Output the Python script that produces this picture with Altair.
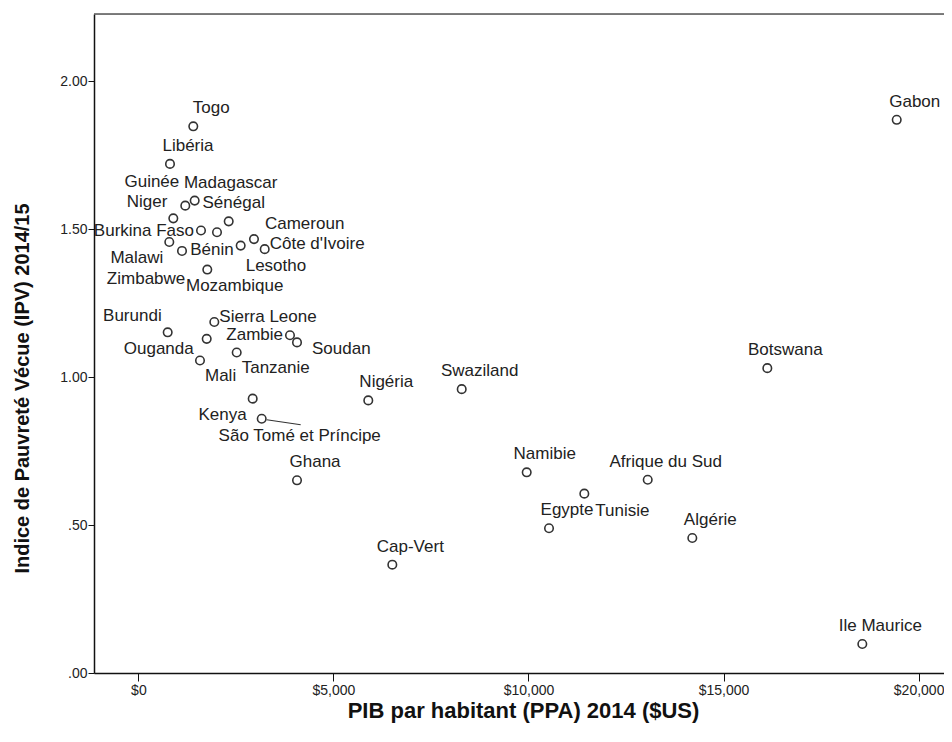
import altair as alt
import pandas as pd

# ---- data ----
countries = [
    "Togo", "Libéria", "Guinée", "Madagascar", "Niger", "Sénégal", "Burkina Faso",
    "Cameroun", "Bénin", "Côte d'Ivoire", "Lesotho", "Malawi", "Zimbabwe", "Mozambique",
    "Burundi", "Sierra Leone", "Ouganda", "Zambie", "Soudan", "Mali", "Tanzanie",
    "Kenya", "São Tomé et Príncipe", "Ghana", "Nigéria", "Swaziland", "Cap-Vert",
    "Namibie", "Afrique du Sud", "Algérie", "Botswana", "Gabon", "Ile Maurice",
    "Egypte", "Tunisie",
]
gdp_ppp = [
    1407, 810, 1202, 1443, 895, 2315, 1605,
    2963, 2015, 3238, 2622, 792, 1766, 1118,
    751, 1946, 1751, 3886, 4066, 1579, 2520,
    2930, 3161, 4066, 5893, 8288, 6509,
    9954, 13056, 14199, 16122, 19439, 18557,
    10526, 11431,
]
ipv = [
    1.847, 1.720, 1.579, 1.596, 1.536, 1.526, 1.495,
    1.466, 1.489, 1.432, 1.444, 1.456, 1.363, 1.426,
    1.151, 1.186, 1.129, 1.141, 1.117, 1.056, 1.083,
    0.927, 0.859, 0.651, 0.921, 0.959, 0.366,
    0.678, 0.653, 0.456, 1.030, 1.869, 0.098,
    0.489, 0.606,
]
# label placement keyword for each country (see PLACEMENTS style table)
placement = [
    "ne", "ne", "nw_hi", "ne2", "nw", "n", "w",
    "ne_l", "s", "e", "se_lo", "sw", "wsw", "s_far",
    "nw", "e", "wsw2", "w", "e_far", "se", "se",
    "sw", "se2", "ne", "ne", "ne", "ne",
    "ne", "ne", "ne", "ne", "ne", "ne",
    "ne", "se2",
]
leader_line = ["São Tomé et Príncipe"]

x_ticks = [0, 5000, 10000, 15000, 20000]
y_ticks = [0, 0.5, 1.0, 1.5, 2.0]

x_title = "PIB par habitant (PPA) 2014 ($US)"
y_title = "Indice de Pauvreté Vécue (IPV) 2014/15"

# ---- style table: (align, dx, dy) ----
PLACEMENTS = {
    "ne": ("center", 18, -18),
    "ne2": ("center", 36, -18),
    "se2": ("center", 38, 17),
    "n": ("center", 5, -18),
    "s": ("center", -5, 18),
    "nw": ("right", -6, -16),
    "nw_hi": ("right", -6, -24),
    "w": ("right", -7, 0),
    "sw": ("right", -6, 16),
    "wsw": ("right", -22, 9),
    "wsw2": ("right", -13, 10),
    "e": ("left", 5, -5),
    "e_far": ("left", 15, 7),
    "ne_l": ("left", 11, -15),
    "se": ("left", 5, 16),
    "se_lo": ("left", 5, 20),
    "s_far": ("left", 4, 35),
}

df = pd.DataFrame({
    "pays": countries,
    "pib": gdp_ppp,
    "ipv": ipv,
    "place": placement,
    "leader": [c in leader_line for c in countries],
})

W, H = 850, 659
FONT = "Liberation Sans"

xscale = alt.Scale(domain=[-1138, 20651], nice=False, zero=False)
yscale = alt.Scale(domain=[0, 2.2265], nice=False, zero=False)

x_enc = alt.X(
    "pib:Q", scale=xscale,
    axis=alt.Axis(
        values=x_ticks, format="$,.0f", title=x_title, grid=False,
        tickSize=8, labelPadding=2, titlePadding=3, titleX=429,
        domainColor="#111111", tickColor="#111111", domainWidth=1.5,
        labelFont=FONT, labelFontSize=14, labelColor="#222222",
        titleFont=FONT, titleFontSize=22, titleFontWeight="bold", titleColor="#111111",
    ),
)
y_enc = alt.Y(
    "ipv:Q", scale=yscale,
    axis=alt.Axis(
        values=y_ticks,
        labelExpr="datum.value < 1 ? substring(format(datum.value, '.2f'), 1) : format(datum.value, '.2f')",
        title=y_title, grid=False, tickSize=6, labelPadding=1,
        domainColor="#111111", tickColor="#111111", domainWidth=1.5,
        labelFont=FONT, labelFontSize=14, labelColor="#222222",
        titleFont=FONT, titleFontSize=20, titleFontWeight="bold", titleColor="#111111",
        titleX=-72, titleY=374, titleBaseline="middle",
    ),
)

base = alt.Chart(df)

points = base.mark_point(
    shape="circle", filled=False, size=72, strokeWidth=1.6,
    color="#333333", opacity=1,
).encode(x=x_enc, y=y_enc)

leaders = base.transform_filter(alt.datum.leader).mark_rule(
    color="#333333", strokeWidth=1.2, xOffset=5, yOffset=1, x2Offset=39, y2Offset=6,
).encode(x=x_enc, y=y_enc, x2="pib:Q", y2="ipv:Q")

label_layers = []
for key in dict.fromkeys(placement):
    align, dx, dy = PLACEMENTS[key]
    label_layers.append(
        base.transform_filter(alt.datum.place == key).mark_text(
            align=align, baseline="middle", dx=dx, dy=dy,
            font=FONT, fontSize=17, color="#222222",
        ).encode(x=x_enc, y=y_enc, text="pays:N")
    )

top_border = alt.Chart(pd.DataFrame({"k": [0]})).mark_rule(
    color="#555555", strokeWidth=1.5,
).encode(x=alt.value(0), x2=alt.value(W), y=alt.value(0))

chart = alt.layer(top_border, leaders, points, *label_layers).properties(
    width=W, height=H,
    padding={"left": 86, "top": 6, "right": 0, "bottom": 50},
    autosize=alt.AutoSizeParams(type="none"),
    background="white",
).configure_view(
    fill="#F0F0F0", stroke="transparent",
).configure(font=FONT)

chart.save("out.html", embed_options={"renderer": "svg", "actions": False})
